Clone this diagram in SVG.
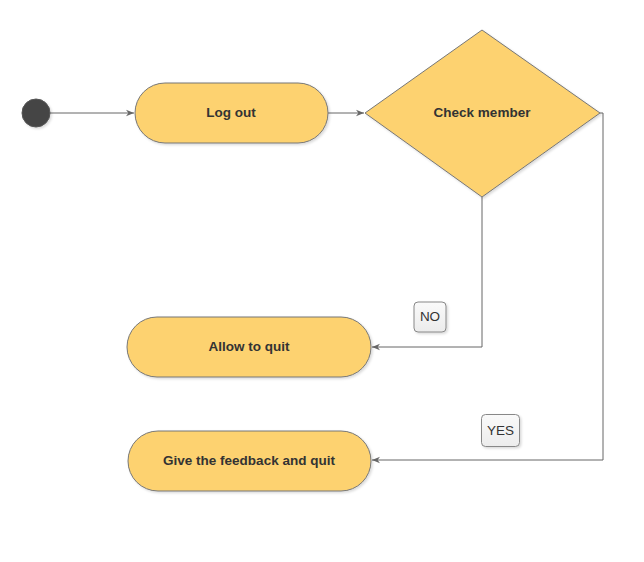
<svg xmlns="http://www.w3.org/2000/svg" width="644" height="562" viewBox="0 0 644 562">
<defs>
<style>
.node{fill:#fdd26f;stroke:#777;stroke-width:1}
.lbl{font-family:"Liberation Sans",Arial,sans-serif;font-size:13.5px;font-weight:bold;fill:#333;text-anchor:middle}
.edge{fill:none;stroke:#666;stroke-width:1}
.tag{fill:url(#tagg);stroke:#888;stroke-width:1}
.tagt{font-family:"Liberation Sans",Arial,sans-serif;font-size:13.5px;fill:#333;text-anchor:middle}
</style>
<linearGradient id="tagg" x1="0" y1="0" x2="0" y2="1"><stop offset="0" stop-color="#fafafa"/><stop offset="1" stop-color="#ececec"/></linearGradient>
<filter id="sh" x="-10%" y="-10%" width="130%" height="130%"><feDropShadow dx="1.5" dy="1.5" stdDeviation="1" flood-color="#000" flood-opacity="0.15"/></filter>
<marker id="arr" viewBox="0 0 10 10" refX="10" refY="5" markerWidth="8" markerHeight="8" markerUnits="userSpaceOnUse" orient="auto"><path d="M0,1 L10,5 L0,9 L3,5 Z" fill="#666"/></marker>
</defs>
<rect width="644" height="562" fill="#fff"/>
<g id="connectors">
<path class="edge" d="M50,113 H134" marker-end="url(#arr)"/>
<path class="edge" d="M328,113 H364" marker-end="url(#arr)"/>
<path class="edge" d="M482,197 V347 H372" marker-end="url(#arr)"/>
<path class="edge" d="M600,113 H603 V460 H372" marker-end="url(#arr)"/>
</g>
<g id="start"><circle cx="36" cy="113" r="14" fill="#444" stroke="#555" filter="url(#sh)"/></g>
<g id="logout"><rect class="node" x="135" y="83" width="193" height="60" rx="30" filter="url(#sh)"/><text class="lbl" x="231" y="116.5">Log out</text></g>
<g id="check"><polygon class="node" points="482,30 600,113 482,197 365,113" filter="url(#sh)"/><text class="lbl" x="482" y="116.5">Check member</text></g>
<g id="allow"><rect class="node" x="127" y="317" width="244" height="60" rx="30" filter="url(#sh)"/><text class="lbl" x="249" y="350.5">Allow to quit</text></g>
<g id="feedback"><rect class="node" x="128" y="431" width="243" height="60" rx="30" filter="url(#sh)"/><text class="lbl" x="249" y="464.5">Give the feedback and quit</text></g>
<g id="no"><rect class="tag" x="414" y="302" width="32" height="30" rx="4" filter="url(#sh)"/><text class="tagt" x="430" y="321">NO</text></g>
<g id="yes"><rect class="tag" x="481.5" y="414.5" width="38" height="32" rx="4" filter="url(#sh)"/><text class="tagt" x="500.5" y="434.5">YES</text></g>
</svg>
